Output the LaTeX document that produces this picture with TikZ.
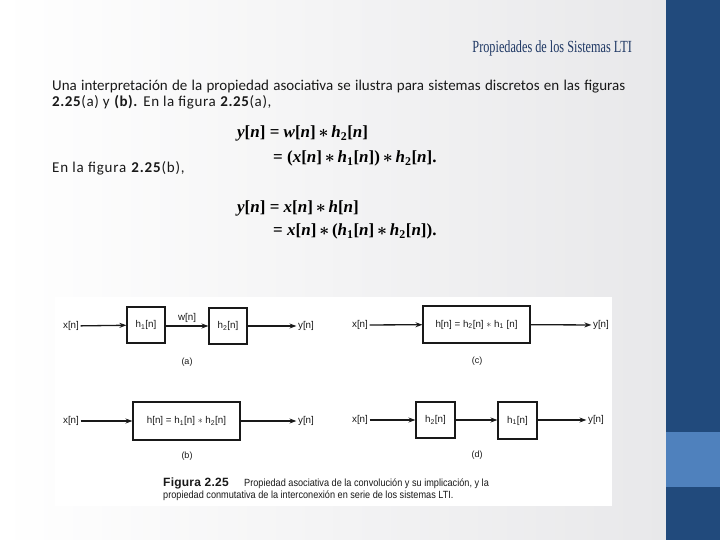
\documentclass[tikz,border=0pt]{standalone}
\usepackage{amsmath}
\usepackage{fontspec}
\setmainfont{Carlito}
\newfontfamily\bodyspaced[LetterSpace=4]{Carlito}
\newfontfamily\bodywide[LetterSpace=5.5]{Carlito}
\newfontfamily\titlefont[FakeStretch=0.72]{Liberation Serif}
\newfontfamily\eqfont{Liberation Serif}
\newfontfamily\figfont{Liberation Sans}
\newfontfamily\figboldfont[LetterSpace=2]{Liberation Sans}
\newfontfamily\capfont[FakeStretch=0.88]{Liberation Sans}
\usetikzlibrary{arrows.meta}
\definecolor{barblue}{RGB}{33,74,124}
\definecolor{lightbar}{RGB}{79,129,189}
\definecolor{titleblue}{RGB}{31,56,100}
\definecolor{bodytext}{RGB}{25,25,25}
\definecolor{figtext}{RGB}{25,25,25}
\definecolor{slidegray}{RGB}{232,232,234}
\newcommand{\iv}[1]{{\itshape #1}}
\newcommand{\sg}[1]{\iv{#1}[\iv{n}]}
\newcommand{\sgs}[2]{\iv{#1}\textsubscript{#2}[\iv{n}]}
\newcommand{\cv}{\,$\boldsymbol{\ast}$\,}
\newcommand{\fs}[2]{#1\textsubscript{#2}[n]}
\tikzset{
  bodystyle/.style={anchor=base west, inner sep=0pt, font=\fontsize{15}{17}\selectfont, text=bodytext},
  eqstyle/.style={anchor=base west, inner sep=0pt, font=\eqfont\bfseries\fontsize{17}{19}\selectfont, text=black},
  sysbox/.style={draw=figtext, line width=1.1pt, fill=white, inner sep=0pt, font=\figfont\fontsize{9.8}{11}\selectfont, text=figtext},
  siglabel/.style={inner sep=1.5pt, font=\figfont\fontsize{9.8}{11}\selectfont, text=figtext},
  flow/.style={draw=figtext, line width=1.3pt, -{Stealth[length=7pt,width=5pt]}},
  caplabel/.style={inner sep=0pt, font=\figfont\fontsize{9}{10}\selectfont, text=figtext}
}
\begin{document}
\begin{tikzpicture}[x=1pt,y=-1pt]
\useasboundingbox (0,0) rectangle (720,540);
% background
\shade[left color=white, right color=slidegray] (0,0) rectangle (666,540);
\fill[barblue] (666,0) rectangle (720,540);
\fill[lightbar] (666,432) rectangle (720,487);
% title
\node[anchor=base east, inner sep=0pt, font=\titlefont\fontsize{17}{19}\selectfont, text=titleblue] (title) at (632,53) {Propiedades de los Sistemas LTI};
% body text
\node[bodystyle] (l1) at (52,91) {\makebox[573pt][s]{Una interpretación de la propiedad asociativa se ilustra para sistemas discretos en las figuras}};
\node[bodystyle, font=\bodyspaced\fontsize{15}{17}\selectfont] (l2) at (52,106.5) {\textbf{2.25}(a) y \textbf{(b).} En la figura \textbf{2.25}(a),};
\node[bodystyle, font=\bodywide\fontsize{15}{17}\selectfont] (l3) at (52,173) {En la figura \textbf{2.25}(b),};
% equations
\node[eqstyle] (e1) at (237,138) {\sg{y} = \sg{w}\cv\sgs{h}{2}};
\node[eqstyle] (e2) at (273,163) {= (\sg{x}\cv\sgs{h}{1})\cv\sgs{h}{2}.};
\node[eqstyle] (e3) at (237,212) {\sg{y} = \sg{x}\cv\sg{h}};
\node[eqstyle] (e4) at (273,236) {= \sg{x}\cv(\sgs{h}{1}\cv\sgs{h}{2}).};
% figure area
\fill[white] (55,297) rectangle (612,506);
% (a)
\node[siglabel] (xa) at (71,326) {x[n]};
\node[sysbox, minimum width=38pt, minimum height=36pt] (h1a) at (146,325) {\fs{h}{1}};
\node[sysbox, minimum width=38pt, minimum height=36pt] (h2a) at (228,326) {\fs{h}{2}};
\node[siglabel] (ya) at (306,326) {y[n]};
\draw[flow] (xa) -- (h1a);
\draw[flow] (h1a.east |- 0,326) -- node[siglabel, above=1pt] (wa) {w[n]} (h2a.west |- 0,326);
\draw[flow] (h2a) -- (ya);
\node[caplabel] (la) at (187,362) {(a)};
% (c)
\node[siglabel] (xc) at (360,325) {x[n]};
\node[sysbox, minimum width=107pt, minimum height=37pt] (hc) at (476.5,324.5) {h[n] = \fs{h}{2} $\ast$ h\textsubscript{1} [n]};
\node[siglabel] (yc) at (601,325) {y[n]};
\draw[flow] (xc) -- (hc);
\draw[flow] (hc) -- (yc);
\node[caplabel] (lc) at (477,361) {(c)};
% (b)
\node[siglabel] (xb) at (71,421) {x[n]};
\node[sysbox, minimum width=107pt, minimum height=38pt] (hb) at (186.5,421) {h[n] = \fs{h}{1} $\ast$ \fs{h}{2}};
\node[siglabel] (yb) at (306,421) {y[n]};
\draw[flow] (xb) -- (hb);
\draw[flow] (hb) -- (yb);
\node[caplabel] (lb) at (187,456) {(b)};
% (d)
\node[siglabel] (xd) at (360,420) {x[n]};
\node[sysbox, minimum width=39pt, minimum height=36pt] (h2d) at (435.5,420) {\fs{h}{2}};
\node[sysbox, minimum width=39pt, minimum height=37pt] (h1d) at (517.5,420.5) {\fs{h}{1}};
\node[siglabel] (yd) at (596,420) {y[n]};
\draw[flow] (xd) -- (h2d);
\draw[flow] (h2d.east |- 0,420) -- (h1d.west |- 0,420);
\draw[flow] (h1d.east |- 0,420) -- (yd);
\node[caplabel] (ld) at (477,455) {(d)};
% caption
\node[anchor=base west, inner sep=0pt, font=\figboldfont\bfseries\fontsize{12}{13}\selectfont, text=figtext] (fig) at (163,486) {Figura 2.25};
\node[anchor=base west, inner sep=0pt, font=\capfont\fontsize{10.4}{12}\selectfont, text=figtext] (c1) at (244,486) {Propiedad asociativa de la convolución y su implicación, y la};
\node[anchor=base west, inner sep=0pt, font=\capfont\fontsize{10.4}{12}\selectfont, text=figtext] (c2) at (163,498) {propiedad conmutativa de la interconexión en serie de los sistemas LTI.};
\end{tikzpicture}
\end{document}
